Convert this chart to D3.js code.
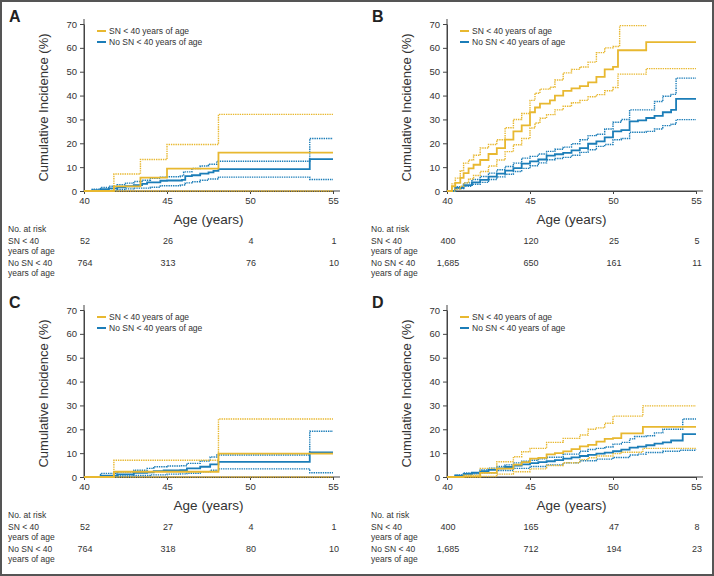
<!DOCTYPE html>
<html><head><meta charset="utf-8">
<script src="https://cdn.jsdelivr.net/npm/d3@7/dist/d3.min.js"></script>
<style>
body{margin:0;background:#fff;}
svg{display:block;font-family:"Liberation Sans",Arial,Helvetica,sans-serif;}
</style></head><body>
<svg id="c" width="714" height="576"></svg>
<script>
// ---------- DATA ----------
const panelLabels = ["A","B","C","D"];
const xTicks = [40,45,50,55];
const yTicks = [0,10,20,30,40,50,60,70];
const legendLabels = ["SN < 40 years of age","No SN < 40 years of age"];
const riskRowLabels = [["SN < 40","years of age"],["No SN < 40","years of age"]];

// Panel A
const aSN      = [[40,0],[41.8,1.9],[43.4,5.6],[45,9.4],[48.1,16.1],[55,16.1]];
const aSNhi    = [[40,0],[41.8,7.1],[43.4,13.2],[45,19.5],[48.1,32.1],[55,32.1]];
const aSNlo    = [[40,0],[55,0]];
const aNo      = [[40,0],[40.5,0.4],[41,0.8],[41.5,1.1],[42,1.5],[42.5,2],[43,2.5],[43.5,3],[43.8,3.6],[44.6,4.3],[45,4.4],[45.9,4.7],[46.1,6.2],[46.5,6.6],[47,7.3],[47.5,7.8],[47.8,8.4],[48.1,9.2],[53.6,13.4],[55,13.4]];
const aNohi    = [[40,0],[40.5,0.8],[41,1.5],[41.5,2],[42,2.6],[42.5,3.3],[43,4],[43.5,4.5],[44,5.3],[44.6,5.8],[45,6],[45.8,6.3],[46,8],[46.5,9.4],[47,10.5],[47.5,11.2],[48,12.5],[53.6,22],[55,22]];
const aNolo    = [[40,0],[41,0.2],[42,0.6],[42.5,0.9],[43,1.2],[44,1.6],[44.6,2.2],[45.8,2.5],[46.1,3.4],[46.5,3.9],[47,4.5],[47.5,5],[48.1,5.8],[53.6,4.8],[55,4.8]];
const aRiskSN  = ["52","26","4","1"];
const aRiskNo  = ["764","313","76","10"];

// Panel B
const bSN      = [[40,0],[40.3,2],[40.5,3.4],[40.8,5.5],[41,7.5],[41.3,9.5],[41.6,11],[42,13],[42.5,15.5],[43,18],[43.5,21.5],[44,25],[44.5,27.5],[45,33],[45.3,35],[45.6,36.6],[46.2,38],[46.5,40],[47,42],[47.5,43],[48,44],[48.5,45.5],[49,47.8],[49.5,51],[50,52],[50.3,59],[52,62.4],[55,62.4]];
const bSNhi    = [[40,0],[40.3,3],[40.5,5.4],[40.8,8.5],[41,11.7],[41.3,13],[41.6,15],[42,18],[42.5,19.5],[43,21.5],[43.5,26.5],[44,30],[44.5,32.5],[45,38],[45.3,41],[45.6,42.7],[46.2,43.5],[46.5,46.5],[47,49.5],[47.5,51],[48,52],[48.5,54],[49,58],[49.5,60],[50,60.6],[50.4,69.3],[52,69.3]];
const bSNlo    = [[40,0],[40.5,0.8],[40.8,2],[41,3.4],[41.3,5],[41.6,6.5],[42,8.2],[42.5,10.5],[43,13],[43.5,16.5],[44,19.4],[44.5,22],[45,26.4],[45.3,28.5],[45.6,30.5],[46,32],[46.5,34],[47,35.5],[47.5,37],[48,38],[48.5,39.5],[49,40.4],[49.5,42],[50,43.4],[50.3,49],[52,51.3],[55,51.3]];
const bNo      = [[40,0],[40.5,1.3],[41,2.5],[41.5,3.6],[42,4.7],[42.5,6],[43,7.3],[43.5,8.5],[44,9.6],[44.5,11.5],[45,12.4],[45.5,13.2],[46,14.8],[46.5,15.4],[47,16],[47.5,17],[48,18],[48.5,19.8],[49,20.8],[49.5,22.5],[50,25],[50.5,25.5],[51,29.2],[51.5,29.6],[52,30.6],[52.5,31.5],[53,33],[53.5,34],[53.8,38.6],[55,38.6]];
const bNohi    = [[40,0],[40.5,1.8],[41,3.4],[41.5,4.8],[42,6.1],[42.5,7.5],[43,8.9],[43.5,10.3],[44,11.7],[44.5,13.8],[45,14.5],[45.5,15.5],[46,16.6],[46.5,17.5],[47,18.4],[47.5,19.8],[48,21.5],[48.5,23.2],[49,23.8],[49.5,26],[50,28.8],[50.5,30],[51,34],[52,34],[52.5,37.5],[53,39.7],[53.5,40.5],[53.8,47.3],[55,47.3]];
const bNolo    = [[40,0],[40.5,1],[41,2],[41.5,2.8],[42,3.6],[42.5,4.8],[43,5.9],[43.5,7],[44,8.2],[44.5,9.5],[45,10.6],[45.5,11.8],[46,13.1],[46.5,13.6],[47,14.1],[47.5,15],[48,16.2],[48.5,17.3],[49,18.7],[49.5,19.5],[50,21.5],[50.5,22],[51,24.6],[52,25],[52.5,26],[53,27.4],[53.5,28],[53.8,29.9],[55,29.9]];
const bRiskSN  = ["400","120","25","5"];
const bRiskNo  = ["1,685","650","161","11"];

// Panel C
const cSN      = [[40,0],[41.8,2.2],[48.1,9.8],[55,9.8]];
const cSNhi    = [[40,0],[41.8,7],[48.1,24.3],[55,24.3]];
const cSNlo    = [[40,0],[55,0]];
const cNo      = [[40,0],[41,0.6],[42,1.1],[43,1.7],[43.8,2],[44.2,2.5],[44.8,2.8],[45.8,2.9],[46.2,3.6],[47,4.3],[47.6,5.3],[48.1,6.3],[53.6,10.3],[55,10.3]];
const cNohi    = [[40,0],[41,1.5],[42,2.1],[43,2.8],[43.8,3.6],[44.2,4.3],[45,4.6],[45.8,4.7],[46.2,5.7],[47,6.7],[47.6,8.4],[48,9.2],[53.6,19.2],[55,19.2]];
const cNolo    = [[40,0],[41,0.1],[42,0.4],[43,0.6],[44,0.9],[45,1.2],[45.8,1.3],[46.2,1.6],[47,2.2],[47.6,2.8],[48.1,3.4],[53.6,1.8],[55,1.8]];
const cRiskSN  = ["52","27","4","1"];
const cRiskNo  = ["764","318","80","10"];

// Panel D
const dSN      = [[40,0],[41,0.3],[42,1.7],[43,3.5],[44,5.2],[44.5,6.2],[45,7.7],[45.5,8],[46,9.5],[46.5,10],[47,10.7],[47.5,11.7],[48,12.8],[48.5,13.5],[49,14.8],[49.5,16],[50,16.3],[50.5,18.3],[51.8,21],[55,21]];
const dSNhi    = [[40,0],[41,0.8],[42,3.6],[43,6.4],[44,8.5],[44.5,10.6],[45,12],[46,14.5],[47,16.2],[48,17.6],[48.5,20],[49,20.6],[49.5,22.5],[50,25.5],[51.8,29.8],[55,29.8]];
const dSNlo    = [[40,0],[42,0.2],[43,1.2],[44,2.2],[45,3.4],[46,4.8],[47,6],[48,7.3],[48.5,8.1],[49,8.8],[50,9.8],[50.5,10.4],[51.8,12],[55,12]];
const dNo      = [[40,0],[40.5,0.6],[41,1.3],[41.5,1.8],[42,2.4],[42.5,3],[43,3.6],[43.5,4.2],[44,4.8],[44.5,5.3],[45,5.8],[45.5,6.2],[46,6.6],[46.5,7.1],[47,7.7],[47.5,8.2],[48,8.8],[48.5,9.3],[49,9.8],[49.5,10.2],[50,10.8],[50.5,11.5],[51,12.3],[51.5,12.7],[52,13.3],[52.5,14],[53,14.5],[53.5,15.3],[54.2,18],[55,18]];
const dNohi    = [[40,0],[40.5,0.9],[41,1.7],[42,3],[42.5,3.7],[43,4.4],[43.5,5.1],[44,5.9],[44.5,6.6],[45,7],[45.5,7.6],[46,8.3],[47,9.6],[48,10.8],[48.5,11.5],[49,12],[49.5,12.6],[50,13.8],[50.5,14.5],[51,16],[51.3,17],[52,17.3],[52.5,18.5],[53,20],[54.2,24.3],[55,24.3]];
const dNolo    = [[40,0],[41,0.9],[41.5,1.3],[42,1.8],[43,2.7],[44,3.6],[45,4.4],[46,5.1],[47,6],[48,6.8],[49,7.5],[50,8.2],[51,9.2],[51.5,9.6],[52,10.3],[53,10.8],[54,11.2],[55,11.4]];
const dRiskSN  = ["400","165","47","8"];
const dRiskNo  = ["1,685","712","194","23"];

// ---------- DRAW ----------
const YEL = "#E8B830", BLU = "#1B7DB8", AX = "#444", TXT = "#333";
const panels = [
  {label:"A", dx:0,   dy:0,   sn:aSN, snHi:aSNhi, snLo:aSNlo, no:aNo, noHi:aNohi, noLo:aNolo, rSN:aRiskSN, rNo:aRiskNo},
  {label:"B", dx:363, dy:0,   sn:bSN, snHi:bSNhi, snLo:bSNlo, no:bNo, noHi:bNohi, noLo:bNolo, rSN:bRiskSN, rNo:bRiskNo},
  {label:"C", dx:0,   dy:286, sn:cSN, snHi:cSNhi, snLo:cSNlo, no:cNo, noHi:cNohi, noLo:cNolo, rSN:cRiskSN, rNo:cRiskNo},
  {label:"D", dx:363, dy:286, sn:dSN, snHi:dSNhi, snLo:dSNlo, no:dNo, noHi:dNohi, noLo:dNolo, rSN:dRiskSN, rNo:dRiskNo}
];
const svg = d3.select("#c");
svg.append("rect").attr("x",1).attr("y",1).attr("width",712).attr("height",574)
  .attr("fill","#fff").attr("stroke","#555").attr("stroke-width",2);

const x = d3.scaleLinear().domain([40,55]).range([84,333]);
const y = d3.scaleLinear().domain([0,70]).range([191,24]);
const line = d3.line().x(d=>x(d[0])).y(d=>y(d[1])).curve(d3.curveStepAfter);

panels.forEach(p=>{
  const g = svg.append("g").attr("transform",`translate(${p.dx},${p.dy})`);
  g.append("text").attr("x",9).attr("y",22).attr("font-size",16).attr("font-weight","bold")
    .attr("fill","#222").text(p.label);

  // axes
  const yAx = g.append("g").attr("transform","translate(84,0)")
    .call(d3.axisLeft(y).tickValues(yTicks).tickSize(4).tickSizeOuter(0).tickPadding(3));
  const xAx = g.append("g").attr("transform","translate(0,191)")
    .call(d3.axisBottom(x).tickValues(xTicks).tickSize(3).tickSizeOuter(0).tickPadding(3));
  [yAx,xAx].forEach(a=>{
    a.selectAll("path,line").attr("stroke",AX);
    a.selectAll("text").attr("font-size",9.5).attr("fill",TXT).attr("font-family","'Liberation Sans',Arial,sans-serif");
  });
  g.append("line").attr("x1",84).attr("x2",84).attr("y1",19).attr("y2",191).attr("stroke",AX);
  g.append("line").attr("x1",84).attr("x2",340).attr("y1",191).attr("y2",191).attr("stroke",AX);

  g.append("text").attr("transform",`translate(48,${(24+191)/2}) rotate(-90)`)
    .attr("text-anchor","middle").attr("font-size",13).attr("fill",TXT)
    .text("Cumulative Incidence (%)");
  g.append("text").attr("x",(84+333)/2).attr("y",224).attr("text-anchor","middle")
    .attr("font-size",13.5).attr("fill",TXT).text("Age (years)");

  // curves
  const dotted = (d,c)=>g.append("path").attr("d",line(d)).attr("fill","none").attr("stroke",c)
      .attr("stroke-width",1.4).attr("stroke-dasharray","1.4,0.9");
  const solid = (d,c)=>g.append("path").attr("d",line(d)).attr("fill","none").attr("stroke",c)
      .attr("stroke-width",1.8);
  dotted(p.noHi,BLU); dotted(p.noLo,BLU); solid(p.no,BLU);
  dotted(p.snHi,YEL); dotted(p.snLo,YEL); solid(p.sn,YEL);

  // legend
  [YEL,BLU].forEach((c,i)=>{
    g.append("line").attr("x1",97).attr("x2",106).attr("y1",31+i*11).attr("y2",31+i*11)
      .attr("stroke",c).attr("stroke-width",2);
    g.append("text").attr("x",109).attr("y",34+i*11).attr("font-size",8.5).attr("fill",TXT)
      .text(legendLabels[i]);
  });

  // at-risk table
  g.append("text").attr("x",8).attr("y",232).attr("font-size",8.5).attr("fill",TXT).text("No. at risk");
  [p.rSN,p.rNo].forEach((row,ri)=>{
    const by = 244 + ri*22;
    riskRowLabels[ri].forEach((t,li)=>g.append("text").attr("x",8).attr("y",by+li*10)
      .attr("font-size",8.5).attr("fill",TXT).text(t));
    row.forEach((v,k)=>g.append("text").attr("x",x(xTicks[k])+1).attr("y",by)
      .attr("text-anchor","middle").attr("font-size",9).attr("fill",TXT).text(v));
  });
});
</script>
</body></html>
